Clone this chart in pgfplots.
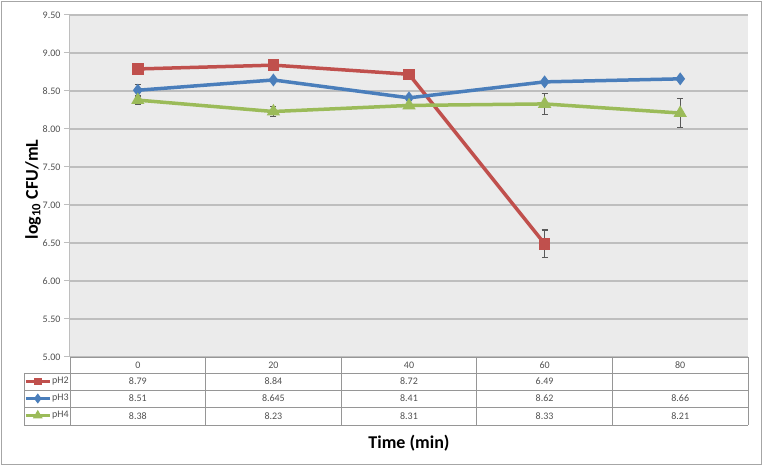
\documentclass[border=0pt]{standalone}
\usepackage{pgfplots}
\pgfplotsset{compat=1.18}
\usepackage{fontspec}
\setmainfont{Carlito}
\definecolor{cRed}{RGB}{192,80,77}
\definecolor{cBlue}{RGB}{74,126,187}
\definecolor{cGreen}{RGB}{155,187,89}
\definecolor{plotbg}{RGB}{235,235,235}
\definecolor{gridc}{RGB}{190,190,190}
\definecolor{tabc}{RGB}{150,150,150}
\definecolor{txt}{RGB}{80,80,80}
\begin{document}
\begin{tikzpicture}[x=1pt,y=1pt]
\useasboundingbox (0,0) rectangle (763,466);
\draw[gray!70,line width=1.2pt] (1.5,1.5) rectangle (761.5,464.5);
\begin{axis}[
  at={(70pt,109pt)}, anchor=south west,
  scale only axis, width=678pt, height=342pt,
  xmin=-0.5, xmax=4.5, ymin=5, ymax=9.5,
  ytick={5,5.5,...,9.5},
  xtick=\empty,
  axis x line=none,
  axis y line*=left,
  axis line style={gridc, line width=1pt},
  axis background/.style={fill=plotbg},
  ymajorgrids, grid style={gridc, line width=1.3pt},
  tick align=outside, major tick length=6pt,
  tick style={gridc, line width=1pt},
  yticklabel style={font=\fontsize{10}{12}\selectfont, text=txt,
    /pgf/number format/.cd, fixed, fixed zerofill, precision=2, assume math mode=true},
  ylabel={\textbf{log\textsubscript{10} CFU/mL}},
  ylabel style={at={(axis description cs:-0.0546,0.49)}, anchor=center, font=\fontsize{18}{20}\selectfont},
  clip=false,
  every axis plot/.append style={line width=3.5pt},
  error bars/error bar style={black!65, line width=1.2pt},
  error bars/error mark options={black!65, line width=1.2pt, mark size=3pt, rotate=90},
  legend image code/.code={\draw[mark repeat=2,mark phase=2,#1,mark size=2.2pt] plot coordinates {(0pt,0pt) (12pt,0pt) (24pt,0pt)};},
  legend style={at={(axis description cs:-0.0678,-0.0468)}, anchor=north west,
    draw=none, fill=none, inner sep=0pt, outer sep=0pt, row sep=0pt,
    nodes={inner sep=0.5pt, minimum height=17pt, font=\fontsize{10}{11}\selectfont, text=txt},
    legend cell align=left},
]
\addplot[cRed, mark=square*, mark size=4pt, mark options={solid},
  error bars/.cd, y dir=both, y explicit] coordinates {
  (0,8.79) +- (0,0.02)
  (1,8.84) +- (0,0.05)
  (2,8.72) +- (0,0.02)
  (3,6.49) +- (0,0.18)
};
\addlegendentry{pH2}
\addplot[cBlue, mark=diamond*, mark size=3.6pt, mark options={solid},
  error bars/.cd, y dir=both, y explicit] coordinates {
  (0,8.51) +- (0,0.08)
  (1,8.645) +- (0,0.02)
  (2,8.41) +- (0,0.03)
  (3,8.62) +- (0,0.02)
  (4,8.66) +- (0,0.0)
};
\addlegendentry{pH3}
\addplot[cGreen, mark=triangle*, mark size=4.2pt, mark options={solid},
  error bars/.cd, y dir=both, y explicit] coordinates {
  (0,8.38) +- (0,0.06)
  (1,8.23) +- (0,0.07)
  (2,8.31) +- (0,0.03)
  (3,8.33) +- (0,0.14)
  (4,8.21) +- (0,0.19)
};
\addlegendentry{pH4}
\end{axis}
\node[font=\fontsize{18}{20}\selectfont\bfseries] at (409,23) {Time (min)};
% data table
\begin{scope}[tabc, line width=0.9pt]
  \draw (70,109) -- (748,109);
  \draw (70,109) -- (70,41) (24,93) -- (748,93) (24,76) -- (748,76) (24,59) -- (748,59) (24,41) -- (748,41);
  \draw (24,93) -- (24,41);
  \foreach \xx in {205.6,341.2,476.8,612.4,748} { \draw (\xx,109) -- (\xx,41); }
\end{scope}
\begin{scope}[every node/.style={font=\fontsize{10}{12}\selectfont, text=txt}]
  \foreach \xx/\t in {137.8/0,273.4/20,409/40,544.6/60,680.2/80} { \node at (\xx,101) {\t}; }
  \foreach \xx/\t in {137.8/8.79,273.4/8.84,409/8.72,544.6/6.49} { \node at (\xx,84.5) {\t}; }
  \foreach \xx/\t in {137.8/8.51,273.4/8.645,409/8.41,544.6/8.62,680.2/8.66} { \node at (\xx,67.5) {\t}; }
  \foreach \xx/\t in {137.8/8.38,273.4/8.23,409/8.31,544.6/8.33,680.2/8.21} { \node at (\xx,50) {\t}; }
\end{scope}
\end{tikzpicture}
\end{document}
